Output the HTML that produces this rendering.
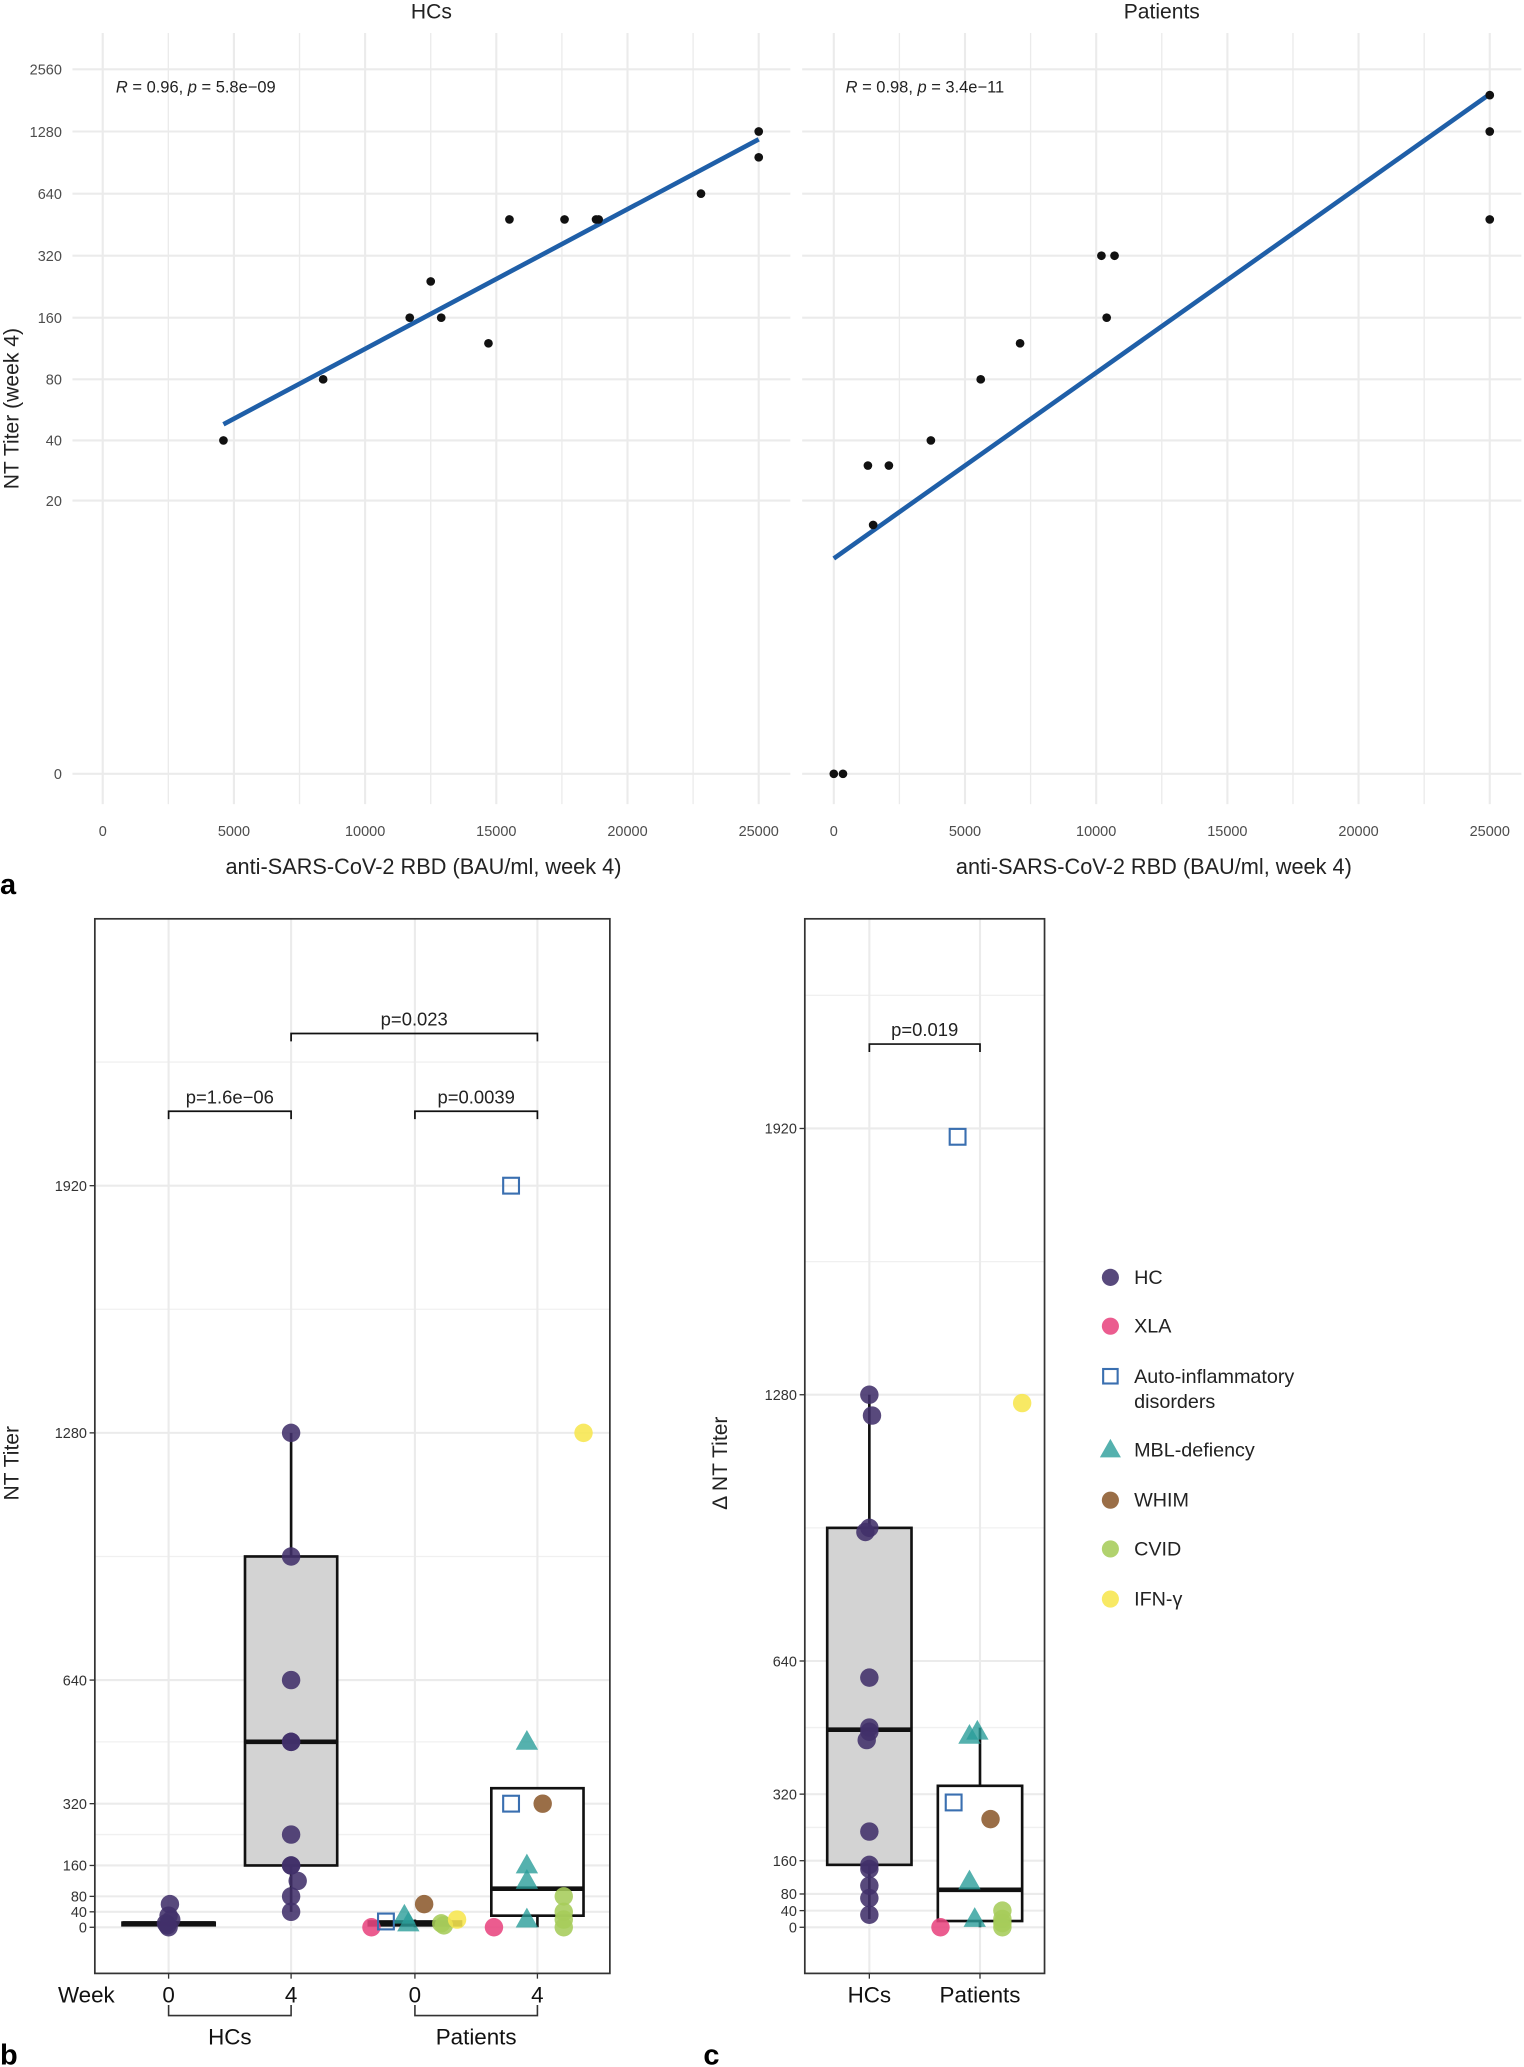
<!DOCTYPE html>
<html><head><meta charset="utf-8"><style>
html,body{margin:0;padding:0;background:#fff;}
svg{display:block;font-family:"Liberation Sans",Arial,sans-serif;}
</style></head><body>
<svg id="fig" width="1524" height="2067" viewBox="0 0 1157 1568" preserveAspectRatio="none" xmlns="http://www.w3.org/2000/svg">
<rect x="0" y="0" width="1157" height="1568" fill="#fff"/>
</svg>
<script>
// ---------- Panel a data ----------
const aXTicks = [0,5000,10000,15000,20000,25000];
const aYTicks = [0,20,40,80,160,320,640,1280,2560];
const hcRBD   = [4600,8400,11700,12500,12900,14700,15500,17600,18800,18900,22800,25000,25000];
const hcNT    = [40,80,160,240,160,120,480,480,480,480,640,1280,960];
const patRBD  = [0,350,1300,1500,2100,3700,5600,7100,10200,10700,10400,25000,25000,25000];
const patNT   = [0,0,30,15,30,40,80,120,320,320,160,1920,1280,480];
const aStats  = ["= 0.96, p = 5.8e\u221209","= 0.98, p = 3.4e\u221211"];

// ---------- Panel b data ----------
const bTicks = [0,40,80,160,320,640,1280,1920];
const bMinor = [240,480,960,1600,2240];
const bGroups = ["HC wk0","HC wk4","Pat wk0","Pat wk4"];
// box stats: [low whisker, q1, median, q3, high whisker]
const bBoxes = [[0,8,10,12,20],[40,160,480,960,1280],[0,5,10,15,20],[0,30,100,360,360]];
const bPtGroup = [0,0,0,0,0,0, 1,1,1,1,1,1,1,1,1,1,1, 2,2,2,2,2,2,2,2, 3,3,3,3,3,3,3,3,3,3,3,3,3];
const bPtJit   = [0.01,0,-0.02,0,0.02,-0.01, 0,0,0,0,0,0,0,0,0.05,0,0, -0.33,-0.22,-0.08,-0.05,0.07,0.2,0.22,0.32, -0.33,-0.2,-0.2,-0.08,-0.08,-0.08,-0.08,0.04,0.2,0.2,0.2,0.2,0.35];
const bPtVal   = [60,30,10,0,20,5, 1280,960,640,480,480,240,160,160,120,80,40, 0,15,30,10,60,10,5,20, 0,1920,320,480,160,120,20,320,80,40,20,0,1280];
const bPtCat   = [0,0,0,0,0,0, 0,0,0,0,0,0,0,0,0,0,0, 1,2,3,3,4,5,5,6, 1,2,2,3,3,3,3,4,5,5,5,5,6];

// ---------- Panel c data ----------
const cTicks = [0,40,80,160,320,640,1280,1920];
const cMinor = [240,480,960,1600,2240];
const cGroups = ["HCs","Patients"];
const cBoxes = [[20,150,475,960,1280],[0,15,90,340,480]];
const cPtGroup = [0,0,0,0,0,0,0,0,0,0,0,0,0,0, 1,1,1,1,1,1,1,1,1,1,1,1,1];
const cPtJit   = [0,0.02,0,-0.03,0,0,0,-0.02,0,0,0,0,0,0, -0.3,-0.17,-0.2,-0.08,-0.02,-0.08,-0.04,0.08,0.17,0.17,0.17,0.17,0.32];
const cPtVal   = [1280,1230,960,950,600,480,470,450,230,150,140,100,70,30, 0,1900,300,460,470,110,20,260,40,20,10,0,1260];
const cPtCat   = [0,0,0,0,0,0,0,0,0,0,0,0,0,0, 1,2,2,3,3,3,3,4,5,5,5,5,6];

const catNames = ["HC","XLA","Auto-inflammatory|disorders","MBL-defiency","WHIM","CVID","IFN-\u03b3"];
const catColors = ["#41306a","#e8457f","#3a6fb0","#2a9d9a","#8c5a2e","#a6cc5a","#f7e64f"];
const catShapes = ["circle","circle","square","triangle","circle","circle","circle"];

const NS="http://www.w3.org/2000/svg";
const svg=document.getElementById('fig');
function mk(tag,attrs,parent){const e=document.createElementNS(NS,tag);for(const k in attrs)e.setAttribute(k,attrs[k]);(parent||svg).appendChild(e);return e;}
function txt(x,y,s,size,anchor,parent,extra){const e=mk('text',Object.assign({x:x,y:y,'font-size':size,'text-anchor':anchor||'start',fill:'#222'},extra||{}),parent);e.textContent=s;return e;}

// ===== Panel a =====
const aX0=[78,633], aW=498;
function aX(p,v){return aX0[p]+v*aW/25000;}
function aY(v){return 587-47.2*Math.log2(v+1);}
const panelsA=[[hcRBD,hcNT,"HCs"],[patRBD,patNT,"Patients"]];
const aLeft=[55,609],aRight=[600,1155];
panelsA.forEach((pd,p)=>{
  const g=mk('g',{});
  
  
  for(let v=0;v<=25000;v+=2500){
    const ln=mk('line',{x1:aX(p,v),x2:aX(p,v),y1:25,y2:610,stroke:'#ebebeb','stroke-width':v%5000?1:1.6},g);
    
  }
  aYTicks.forEach(v=>{
    const ln=mk('line',{x1:aLeft[p],x2:aRight[p],y1:aY(v),y2:aY(v),stroke:'#ebebeb','stroke-width':1.6},g);
    
  });
  aXTicks.forEach(v=>{const t=txt(aX(p,v),634,String(v),11,'middle',g,{fill:'#4d4d4d'});});
  if(p===0){aYTicks.forEach(v=>{const t=txt(47,aY(v)+4,String(v),11,'end',g,{fill:'#4d4d4d'});});}
  const tt=txt((aLeft[p]+aRight[p])/2,14,pd[2],16,'middle',g);
  
  const xt=txt((aLeft[p]+aRight[p])/2-6,663,"anti-SARS-CoV-2 RBD (BAU/ml, week 4)",16.5,'middle',g);
  
  const st=mk('text',{x:aLeft[p]+33,y:70,'font-size':12.5,fill:'#222'},g);
  st.innerHTML='<tspan font-style="italic">R</tspan> '+aStats[p].replace('p =','<tspan font-style="italic">p</tspan> =');
  
  const xs=pd[0], ys=pd[1].map(v=>Math.log2(v+1));
  const n=xs.length, mx=xs.reduce((a,b)=>a+b)/n, my=ys.reduce((a,b)=>a+b)/n;
  let sxy=0,sxx=0;for(let i=0;i<n;i++){sxy+=(xs[i]-mx)*(ys[i]-my);sxx+=(xs[i]-mx)**2;}
  const b=sxy/sxx,a0=my-b*mx;
  const xmin=Math.min(...xs),xmax=Math.max(...xs);
  const yAt=x=>587-47.2*(a0+b*x);
  const rl=mk('line',{x1:aX(p,xmin),y1:yAt(xmin),x2:aX(p,xmax),y2:yAt(xmax),stroke:'#1f5fa8','stroke-width':3.5},g);
  
  xs.forEach((x,i)=>{
    const c=mk('circle',{cx:aX(p,x),cy:aY(pd[1][i]),r:3.3,fill:'#111'},g);
    
  });
});
{const yl=txt(0,0,"NT Titer (week 4)",16,'middle',svg,{transform:'translate(14,310) rotate(-90)'});}
{const l=txt(0,678,"a",22,'start',svg,{'font-weight':'bold',fill:'#000'});}

function shape(g,cat,cx,cy,r){
  const col=catColors[cat],sh=catShapes[cat];let e;
  if(sh==='circle')e=mk('circle',{cx:cx,cy:cy,r:r,fill:col,'fill-opacity':0.88},g);
  else if(sh==='square')e=mk('rect',{x:cx-r+1,y:cy-r+1,width:2*r-2,height:2*r-2,fill:'none',stroke:col,'stroke-width':1.6},g);
  else e=mk('polygon',{points:`${cx},${cy-r-2} ${cx-r-1.5},${cy+r-1} ${cx+r+1.5},${cy+r-1}`,fill:col,'fill-opacity':0.8},g);
  return e;
}

function boxPanel(opts){
  const g=mk('g',{});
  
  const Y=opts.Y;
  opts.minor.forEach(v=>{if(Y(v)>opts.top){const l=mk('line',{x1:opts.left,x2:opts.right,y1:Y(v),y2:Y(v),stroke:'#f0f0f0','stroke-width':1},g);}});
  opts.ticks.forEach(v=>{
    const l=mk('line',{x1:opts.left,x2:opts.right,y1:Y(v),y2:Y(v),stroke:'#ebebeb','stroke-width':1.6},g);
    mk('line',{x1:opts.left-4,x2:opts.left,y1:Y(v),y2:Y(v),stroke:'#333','stroke-width':1},g);
    const t=txt(opts.left-6,Y(v)+4,String(v),11,'end',g,{fill:'#333'});
  });
  opts.xs.forEach(x=>{const l=mk('line',{x1:x,x2:x,y1:opts.top,y2:opts.bottom,stroke:'#ebebeb','stroke-width':1.6},g);
    mk('line',{x1:x,x2:x,y1:opts.bottom,y2:opts.bottom+4,stroke:'#333','stroke-width':1},g);});
  opts.boxes.forEach((bx,i)=>{
    const x=opts.xs[i],hw=opts.bw;
    const w1=mk('line',{x1:x,x2:x,y1:Y(bx[0]),y2:Y(bx[4]),stroke:'#111','stroke-width':2},g);
    const r=mk('rect',{x:x-hw,y:Y(bx[3]),width:2*hw,height:Math.max(Y(bx[1])-Y(bx[3]),2),fill:'#d3d3d3',stroke:'#111','stroke-width':2},g);
    
    if(opts.whiteBox&&opts.whiteBox[i])r.setAttribute('fill','#fff');
    const m=mk('line',{x1:x-hw,x2:x+hw,y1:Y(bx[2]),y2:Y(bx[2]),stroke:'#111','stroke-width':3.5},g);
  });
  opts.pg.forEach((gi,i)=>{
    const e=shape(g,opts.pc[i],opts.xs[gi]+opts.pj[i]*opts.spread,Y(opts.pv[i]),opts.r);
    
  });
  const fr=mk('rect',{x:opts.left,y:opts.top,width:opts.right-opts.left,height:opts.bottom-opts.top,fill:'none',stroke:'#333','stroke-width':1.3},g);
  
  opts.brackets.forEach(bk=>{
    const x1=opts.xs[bk[0]],x2=opts.xs[bk[1]];
    const p=mk('path',{d:`M${x1},${bk[2]+6}V${bk[2]}H${x2}V${bk[2]+6}`,fill:'none',stroke:'#111','stroke-width':1.3},g);
    const t=txt((x1+x2)/2,bk[2]-6,bk[3],14,'middle',g);
  });
  return g;
}

const bXs=[128,221,315,408];
boxPanel({name:'nt-titer-boxplot',left:72,right:463,top:697,bottom:1497,Y:v=>1462-v*0.293,ticks:bTicks,minor:bMinor,xs:bXs,bw:35,boxes:bBoxes,
  whiteBox:[false,false,false,true],pg:bPtGroup,pj:bPtJit,pv:bPtVal,pc:bPtCat,r:7,spread:100,
  brackets:[[0,1,843,"p=1.6e\u221206"],[2,3,843,"p=0.0039"],[1,3,784,"p=0.023"]]});
{
  const g=mk('g',{});
  const w=txt(44,1519,"Week",17,'start',g,{fill:'#111'});
  ["0","4","0","4"].forEach((s,i)=>{const t=txt(bXs[i],1519,s,17,'middle',g,{fill:'#111'});});
  [[0,1,"HCs"],[2,3,"Patients"]].forEach(b=>{
    const p=mk('path',{d:`M${bXs[b[0]]},1521V1529H${bXs[b[1]]}V1521`,fill:'none',stroke:'#333','stroke-width':1.2},g);
    const t=txt((bXs[b[0]]+bXs[b[1]])/2,1551,b[2],17,'middle',g,{fill:'#111'});
  });
  const yl=txt(0,0,"NT Titer",16,'middle',svg,{transform:'translate(14,1110) rotate(-90)'});
  const l=txt(0,1566,"b",22,'start',svg,{'font-weight':'bold',fill:'#000'});
}

const cXs=[660,744];
boxPanel({name:'delta-nt-titer-boxplot',left:611,right:793,top:697,bottom:1497,Y:v=>1462-v*0.3156,ticks:cTicks,minor:cMinor,xs:cXs,bw:32,boxes:cBoxes,
  whiteBox:[false,true],pg:cPtGroup,pj:cPtJit,pv:cPtVal,pc:cPtCat,r:7,spread:100,
  brackets:[[0,1,792,"p=0.019"]]});
{
  cGroups.forEach((s,i)=>{const t=txt(cXs[i],1519,s,17,'middle',svg,{fill:'#111'});});
  const yl=txt(0,0,"\u0394 NT Titer",16,'middle',svg,{transform:'translate(552,1110) rotate(-90)'});
  const l=txt(534,1566,"c",22,'start',svg,{'font-weight':'bold',fill:'#000'});
}

{
  const g=mk('g',{});
  const ly=[969,1006,1044,1100,1138,1175,1213];
  catNames.forEach((nm,i)=>{
    const e=shape(g,i,843,ly[i],6.5);
    const parts=nm.split('|');
    const t=txt(861,ly[i]+5,parts[0],15,'start',g,{fill:'#222'});
    if(parts[1]){const t2=txt(861,ly[i]+24,parts[1],15,'start',g,{fill:'#222'});}
  });
}
</script>
</body></html>
